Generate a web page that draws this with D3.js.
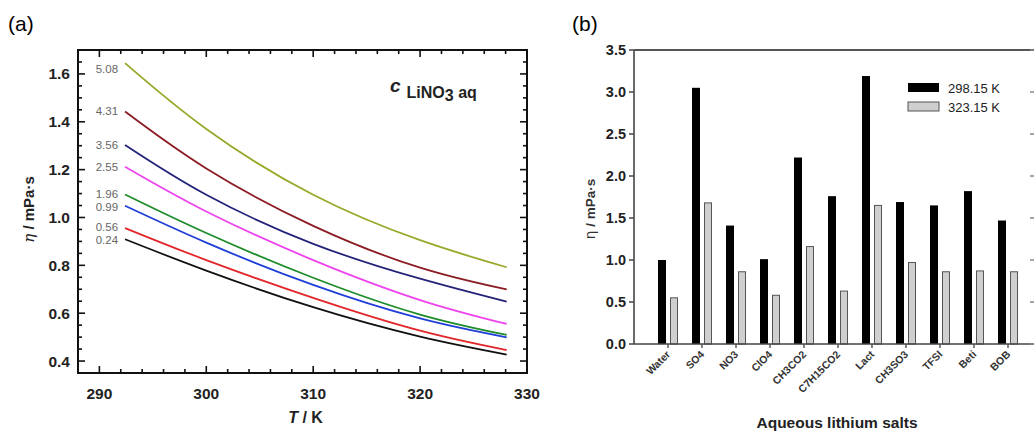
<!DOCTYPE html>
<html><head><meta charset="utf-8">
<script src="https://cdn.jsdelivr.net/npm/d3@7/dist/d3.min.js"></script>
<style>
body{margin:0;background:#fff;}
svg{display:block;}
text{font-family:"Liberation Sans",Arial,sans-serif;}
</style></head>
<body><svg id="c" width="1034" height="431"></svg>
<script>
// ---------- Panel (a) data ----------
const temps = [292.4, 300, 310, 320, 328.1];
const concLabels = ["5.08","4.31","3.56","2.55","1.96","0.99","0.56","0.24"];
const concColors = ["#9aa82a","#8b1c24","#23237a","#ee44ee","#1e8c2a","#1f3fd8","#e2262a","#111111"];
const visc508 = [1.645, 1.370, 1.095, 0.905, 0.792];
const visc431 = [1.443, 1.205, 0.965, 0.790, 0.699];
const visc356 = [1.303, 1.095, 0.890, 0.744, 0.648];
const visc255 = [1.212, 1.025, 0.822, 0.655, 0.555];
const visc196 = [1.096, 0.935, 0.748, 0.594, 0.509];
const visc099 = [1.049, 0.895, 0.718, 0.578, 0.499];
const visc056 = [0.956, 0.822, 0.664, 0.527, 0.446];
const visc024 = [0.909, 0.778, 0.625, 0.502, 0.427];
const aSeries = [visc508, visc431, visc356, visc255, visc196, visc099, visc056, visc024];
const aXTicks = [290, 300, 310, 320, 330];
const aYTicks = [0.4, 0.6, 0.8, 1.0, 1.2, 1.4, 1.6];

// ---------- Panel (b) data ----------
const salts = ["Water","SO4","NO3","ClO4","CH3CO2","C7H15CO2","Lact","CH3SO3","TFSI","Beti","BOB"];
const eta298 = [1.00, 3.05, 1.41, 1.01, 2.22, 1.76, 3.19, 1.69, 1.65, 1.82, 1.47];
const eta323 = [0.55, 1.68, 0.86, 0.58, 1.16, 0.63, 1.65, 0.97, 0.86, 0.87, 0.86];
const bYTicks = [0.0, 0.5, 1.0, 1.5, 2.0, 2.5, 3.0, 3.5];
const legendLabels = ["298.15 K", "323.15 K"];

const svg = d3.select("#c");

// ================= Panel (a) =================
const A = {l:78, r:527, t:50, b:373};
const xa = d3.scaleLinear().domain([288, 330]).range([A.l, A.r]);
const ya = d3.scaleLinear().domain([0.35, 1.7]).range([A.b, A.t]);
const ga = svg.append("g");

ga.append("text").attr("x", 8).attr("y", 31).attr("font-family","Liberation Serif, Times New Roman, serif")
  .attr("font-size", 21).text("(a)");

ga.append("rect").attr("x",A.l).attr("y",A.t).attr("width",A.r-A.l).attr("height",A.b-A.t)
  .attr("fill","none").attr("stroke","#111").attr("stroke-width",2);

const xMinor = d3.range(290, 330, 2).filter(v => v % 10 !== 0);
const yMinor = d3.range(0.45, 1.7, 0.05).map(v => +v.toFixed(2)).filter(v => Math.abs(Math.round(v*5) - v*5) > 1e-6);

function tickLinesX(vals, len){
  vals.forEach(v=>{
    ga.append("line").attr("x1",xa(v)).attr("x2",xa(v)).attr("y1",A.b).attr("y2",A.b-len).attr("stroke","#111").attr("stroke-width",1.6);
    ga.append("line").attr("x1",xa(v)).attr("x2",xa(v)).attr("y1",A.t).attr("y2",A.t+len).attr("stroke","#111").attr("stroke-width",1.6);
  });
}
function tickLinesY(vals, len){
  vals.forEach(v=>{
    ga.append("line").attr("y1",ya(v)).attr("y2",ya(v)).attr("x1",A.l).attr("x2",A.l+len).attr("stroke","#111").attr("stroke-width",1.6);
    ga.append("line").attr("y1",ya(v)).attr("y2",ya(v)).attr("x1",A.r).attr("x2",A.r-len).attr("stroke","#111").attr("stroke-width",1.6);
  });
}
tickLinesX(aXTicks, 7); tickLinesX(xMinor, 4);
tickLinesY(aYTicks, 7); tickLinesY(yMinor, 4);

aXTicks.forEach(v=>{
  ga.append("text").attr("x",xa(v)).attr("y",A.b+26).attr("text-anchor","middle")
    .attr("font-size",15.5).attr("font-weight","bold").attr("fill","#222").text(v);
});
aYTicks.forEach(v=>{
  ga.append("text").attr("x",A.l-8).attr("y",ya(v)+5.5).attr("text-anchor","end")
    .attr("font-size",15.5).attr("font-weight","bold").attr("fill","#222").text(v.toFixed(1));
});

const tt = ga.append("text").attr("x",(A.l+A.r)/2+3).attr("y",423).attr("text-anchor","middle")
  .attr("font-size",16).attr("font-weight","bold").attr("fill","#222");
tt.append("tspan").attr("font-style","italic").text("T");
tt.append("tspan").text(" / K");
const yt = ga.append("text").attr("transform",`translate(34,${(A.t+A.b)/2-2}) rotate(-90)`).attr("text-anchor","middle")
  .attr("font-size",15).attr("font-weight","bold").attr("fill","#222");
yt.append("tspan").attr("font-style","italic").attr("font-family","DejaVu Serif, serif").attr("font-weight","normal").text("η");
yt.append("tspan").text(" / mPa·s");

const line = d3.line().x((d,i)=>xa(temps[i])).y(d=>ya(d)).curve(d3.curveNatural);
aSeries.forEach((s,k)=>{
  ga.append("path").datum(s).attr("d",line).attr("fill","none")
    .attr("stroke",concColors[k]).attr("stroke-width",1.8);
});

// label positions: start at curve start, then spread apart to avoid overlap
const labY = aSeries.map(s => ya(s[0]));
labY[0] += 6;
const minGap = 13;
for (let it = 0; it < 20; it++) {
  for (let k = 0; k < labY.length - 1; k++) {
    const g = labY[k+1] - labY[k];
    if (g < minGap) { const d = (minGap - g) / 2; labY[k] -= d; labY[k+1] += d; }
  }
}
aSeries.forEach((s,k)=>{
  ga.append("text").attr("x",xa(temps[0])-7).attr("y",labY[k]+4).attr("text-anchor","end")
    .attr("font-size",11.5).attr("fill","#666").text(concLabels[k]);
});

const ann = ga.append("text").attr("x",390).attr("y",98).attr("font-weight","bold").attr("fill","#222").attr("font-size",16);
ann.append("tspan").attr("font-style","italic").attr("font-size",19).attr("dy",-6).text("c");
ann.append("tspan").attr("dx",6).attr("dy",6).text("LiNO");
ann.append("tspan").attr("dy",3).text("3");
ann.append("tspan").attr("dy",-3).text(" aq");

// ================= Panel (b) =================
const B = {l:634, r:1036, t:50, b:344};
const xb = d3.scalePoint().domain(salts).range([B.l+34, B.l+374]);
const yb = d3.scaleLinear().domain([0, 3.5]).range([B.b, B.t]);
const gb = svg.append("g");

gb.append("text").attr("x",572).attr("y",31).attr("font-family","Liberation Serif, Times New Roman, serif")
  .attr("font-size",21).text("(b)");

const barW = 8, gap = 2;
gb.selectAll(".b1").data(salts).enter().append("rect")
  .attr("x",d=>xb(d)-gap-barW).attr("width",barW)
  .attr("y",(d,i)=>yb(eta298[i])).attr("height",(d,i)=>yb(0)-yb(eta298[i]))
  .attr("fill","#000");
gb.selectAll(".b2").data(salts).enter().append("rect")
  .attr("x",d=>xb(d)+gap+0.5).attr("width",barW-1)
  .attr("y",(d,i)=>yb(eta323[i])).attr("height",(d,i)=>yb(0)-yb(eta323[i]))
  .attr("fill","#cfcfcf").attr("stroke","#555").attr("stroke-width",1);

gb.append("line").attr("x1",B.l).attr("x2",B.l).attr("y1",B.t).attr("y2",B.b).attr("stroke","#444").attr("stroke-width",1.6);
gb.append("line").attr("x1",B.l).attr("x2",B.r).attr("y1",B.t).attr("y2",B.t).attr("stroke","#555").attr("stroke-width",2);
gb.append("line").attr("x1",B.l).attr("x2",B.r).attr("y1",B.b).attr("y2",B.b).attr("stroke","#444").attr("stroke-width",1.6);
gb.append("line").attr("x1",B.r).attr("x2",B.r).attr("y1",B.t).attr("y2",B.b).attr("stroke","#555").attr("stroke-width",2);

bYTicks.forEach(v=>{
  gb.append("line").attr("x1",B.l-5).attr("x2",B.l).attr("y1",yb(v)).attr("y2",yb(v)).attr("stroke","#444").attr("stroke-width",1.5);
  gb.append("line").attr("x1",B.r-6).attr("x2",B.r).attr("y1",yb(v)).attr("y2",yb(v)).attr("stroke","#888").attr("stroke-width",1.5);
  gb.append("text").attr("x",B.l-8).attr("y",yb(v)+5).attr("text-anchor","end")
    .attr("font-size",14.5).attr("font-weight","bold").attr("fill","#222").text(v.toFixed(1));
});
salts.forEach(s=>{
  gb.append("line").attr("x1",xb(s)).attr("x2",xb(s)).attr("y1",B.b).attr("y2",B.b+4).attr("stroke","#444").attr("stroke-width",1.3);
  gb.append("text").attr("transform",`translate(${xb(s)+3},${B.b+11}) rotate(-45)`).attr("text-anchor","end")
    .attr("font-size",10.5).attr("font-weight","bold").attr("fill","#333").text(s);
});

gb.append("text").attr("x",837).attr("y",428).attr("text-anchor","middle")
  .attr("font-size",15.5).attr("font-weight","bold").attr("fill","#222").text("Aqueous lithium salts");
const yt2 = gb.append("text").attr("transform",`translate(595,209) rotate(-90)`).attr("text-anchor","middle")
  .attr("font-size",13.5).attr("font-weight","bold").attr("fill","#333");
yt2.append("tspan").attr("font-family","DejaVu Sans, sans-serif").attr("font-weight","normal").text("η");
yt2.append("tspan").text(" / mPa·s");

const legFill = ["#000", "#cfcfcf"];
legendLabels.forEach((lab,i)=>{
  const y0 = 83 + i*19;
  gb.append("rect").attr("x",908).attr("y",y0).attr("width",31).attr("height",9)
    .attr("fill",legFill[i]).attr("stroke", i ? "#555" : "none");
  gb.append("text").attr("x",948).attr("y",y0+9.5).attr("font-size",13).attr("fill","#222").text(lab);
});
</script></body></html>
